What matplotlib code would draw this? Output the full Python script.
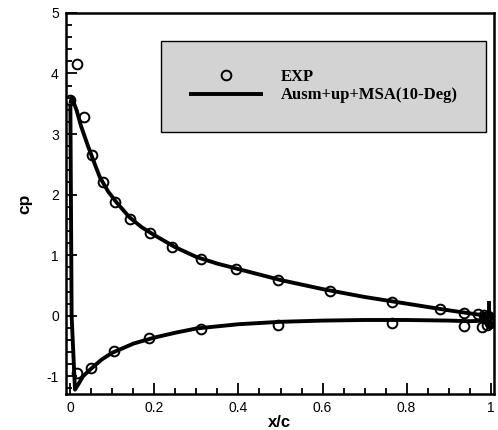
import matplotlib
matplotlib.use("Agg")
import matplotlib.pyplot as plt
from matplotlib.ticker import MultipleLocator, FormatStrFormatter

plt.rcParams['axes.unicode_minus'] = False
plt.rcParams['font.family'] = ['Liberation Sans', 'DejaVu Sans']

# 实验数据 (上表面 / 下表面)
exp_upper_x = [0.0, 0.015, 0.033, 0.051, 0.077, 0.106, 0.143, 0.189, 0.242, 0.310,
               0.393, 0.494, 0.617, 0.765, 0.879, 0.937, 0.969, 0.985]
exp_upper_y = [3.56, 4.16, 3.28, 2.66, 2.21, 1.88, 1.59, 1.36, 1.14, 0.945,
               0.77, 0.59, 0.41, 0.23, 0.105, 0.05, 0.03, 0.01]
exp_lower_x = [0.015, 0.049, 0.104, 0.188, 0.310, 0.494, 0.765, 0.937, 0.980]
exp_lower_y = [-0.95, -0.87, -0.59, -0.37, -0.225, -0.15, -0.115, -0.17, -0.19]
# 后缘附近的点
exp_te_x = [0.988, 0.991, 0.993, 0.995, 0.997, 0.998, 1.0, 1.0, 1.002]
exp_te_y = [-0.02, -0.15, 0.0, -0.08, -0.03, -0.12, -0.04, -0.10, -0.07]

# 计算结果 Ausm+up+MSA
cfd_upper_x = [0.0, 0.003, 0.008, 0.015, 0.025, 0.04, 0.055, 0.07, 0.09, 0.11,
               0.14, 0.17, 0.2, 0.25, 0.3, 0.35, 0.4, 0.5, 0.6, 0.7,
               0.8, 0.9, 0.95, 0.99]
cfd_upper_y = [3.5, 3.6, 3.52, 3.39, 3.14, 2.84, 2.56, 2.29, 2.05, 1.87,
               1.63, 1.46, 1.33, 1.13, 0.97, 0.86, 0.77, 0.59, 0.44, 0.31,
               0.2, 0.09, 0.04, 0.0]
cfd_lower_x = [0.0, 0.003, 0.011, 0.02, 0.03, 0.05, 0.075, 0.1, 0.15, 0.2,
               0.25, 0.3, 0.4, 0.5, 0.6, 0.7, 0.8, 0.9, 0.95, 0.99]
cfd_lower_y = [3.5, 0.0, -1.22, -1.12, -1.0, -0.87, -0.72, -0.61, -0.46, -0.36,
               -0.28, -0.21, -0.14, -0.1, -0.08, -0.07, -0.07, -0.08, -0.09, -0.08]
cfd_te_x = [0.997, 0.997]
cfd_te_y = [0.24, -0.06]

fig = plt.figure(figsize=(4.98, 4.30), dpi=100)
ax = fig.add_axes([0.132, 0.084, 0.860, 0.886])

line_kw = dict(color='black', lw=2.8, solid_capstyle='butt')
ax.plot(cfd_upper_x, cfd_upper_y, label='Ausm+up+MSA(10-Deg)', **line_kw)
ax.plot(cfd_lower_x, cfd_lower_y, **line_kw)
ax.plot(cfd_te_x, cfd_te_y, **line_kw)

mk_kw = dict(ls='none', marker='o', ms=7, mfc='none', mec='black', mew=1.4)
ax.plot(exp_upper_x, exp_upper_y, label='EXP', **mk_kw)
ax.plot(exp_lower_x, exp_lower_y, **mk_kw)
ax.plot(exp_te_x, exp_te_y, **mk_kw)

ax.set_xlim(-0.011, 1.008)
ax.set_ylim(-1.29, 5.0)
ax.xaxis.set_major_locator(MultipleLocator(0.2))
ax.xaxis.set_minor_locator(MultipleLocator(0.05))
ax.yaxis.set_major_locator(MultipleLocator(1))
ax.yaxis.set_minor_locator(MultipleLocator(0.2))
ax.xaxis.set_major_formatter(FormatStrFormatter('%g'))
ax.yaxis.set_major_formatter(FormatStrFormatter('%g'))
ax.tick_params(which='both', direction='in', top=False, right=False,
               width=1.3, labelsize=10, pad=5)
ax.tick_params(which='major', length=8)
ax.tick_params(which='minor', length=4.5)
for s in ax.spines.values():
    s.set_linewidth(1.8)

ax.set_xlabel('x/c', fontsize=12, fontweight='bold', labelpad=0)
ax.set_ylabel('cp', fontsize=12.5, fontweight='bold', labelpad=10)

handles, labels = ax.get_legend_handles_labels()
leg = ax.legend(handles[::-1], labels[::-1], loc='upper right',
                bbox_to_anchor=(0.981, 0.927), frameon=True, fancybox=False,
                facecolor='#d3d3d3', edgecolor='black', framealpha=1,
                handlelength=4.4, handletextpad=1.08, labelspacing=0.14,
                borderpad=1.7, borderaxespad=0,
                prop={'family': ['Liberation Serif'], 'weight': 'bold', 'size': 12})
leg.get_frame().set_linewidth(1.0)

fig.savefig('out.png', dpi=100)
